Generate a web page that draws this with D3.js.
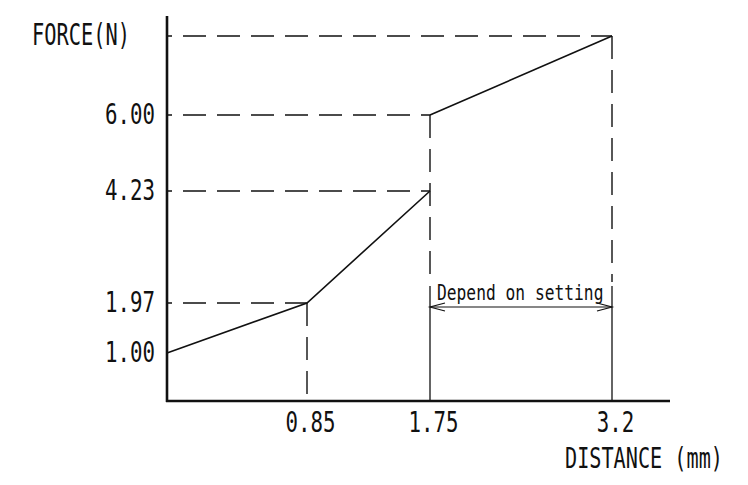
<!DOCTYPE html>
<html><head><meta charset="utf-8">
<script src="https://cdn.jsdelivr.net/npm/d3@7"></script>
<style>html,body{margin:0;padding:0;background:#fff;} svg{display:block}</style>
</head><body><svg id="c" width="748" height="485"></svg>
<script>
// ---- data ----
const distance = [0, 0.85, 1.75, 1.75, 3.2];
const force = [1.00, 1.97, 4.23, 6.00, 7.80];
const xTickValues = [0.85, 1.75, 3.2];
const xTickLabels = ["0.85", "1.75", "3.2"];
const yTickValues = [1.00, 1.97, 4.23, 6.00];
const yTickLabels = ["1.00", "1.97", "4.23", "6.00"];
const xTitle = "DISTANCE (mm)";
const yTitle = "FORCE(N)";
const annotationText = "Depend on setting";
const annotationRange = [1.75, 3.2];

// ---- layout ----
const FONT = "'DejaVu Sans Mono', 'Liberation Mono', monospace";
const INK = "#111";
const ADV = 0.602; // mono advance per em
const svg = d3.select("#c");

// schematic (piecewise) scales
const x = d3.scaleLinear().domain([0, ...xTickValues]).range([167, 307, 430, 612]);
const y = d3.scaleLinear().domain([0, ...force]).range([401, 353, 303, 191, 115, 36]);

const x0 = x(0), y0 = y(0);
const points = distance.map((d, i) => [d, force[i]]);

// split curve where the distance repeats (jump in force)
const segments = [[points[0]]];
for (let i = 1; i < points.length; i++) {
  if (points[i][0] === points[i - 1][0]) segments.push([points[i]]);
  else segments[segments.length - 1].push(points[i]);
}

// condensed text via horizontal scale
function condensed(sel, fs, charW) {
  const sx = charW / (ADV * fs);
  sel.each(function () {
    const t = d3.select(this);
    const xa = +t.attr("x") || 0;
    t.attr("x", xa / sx).attr("transform", `scale(${sx},1)`);
  });
}
function label(txt, px, py, fs, charW, anchor) {
  const sx = charW / (ADV * fs);
  svg.append("text").text(txt)
    .attr("transform", `translate(${px},${py}) scale(${sx},1)`)
    .attr("text-anchor", anchor || "start")
    .attr("font-family", FONT).attr("font-size", fs).attr("fill", INK);
}

// ---- guide lines ----
const guides = svg.append("g").attr("stroke", INK).attr("fill", "none");
const dash = "23,11";
points.slice(1).forEach(p => {
  guides.append("line")
    .attr("x1", x0).attr("x2", x(p[0]))
    .attr("y1", y(p[1])).attr("y2", y(p[1]))
    .attr("stroke-width", 1.4).attr("stroke-dasharray", dash).attr("stroke-dashoffset", 18);
});
const arrowY = y0 - 94;
const verticals = d3.rollups(points.slice(1), v => d3.max(v, d => d[1]), d => d[0]);
verticals.forEach(([dx, fy]) => {
  const isExt = annotationRange.includes(dx);
  const yEnd = isExt ? arrowY - 25 : y0;
  guides.append("line")
    .attr("x1", x(dx)).attr("x2", x(dx))
    .attr("y1", y(fy)).attr("y2", yEnd)
    .attr("stroke-width", 1.4).attr("stroke-dasharray", dash);
  if (isExt) {
    guides.append("line")
      .attr("x1", x(dx)).attr("x2", x(dx))
      .attr("y1", arrowY - 21).attr("y2", y0)
      .attr("stroke-width", 1.3);
  }
});

// ---- dimension arrow ----
const ax1 = x(annotationRange[0]), ax2 = x(annotationRange[1]);
const arr = svg.append("g").attr("stroke", INK).attr("fill", "none").attr("stroke-width", 1.2);
arr.append("line").attr("x1", ax1).attr("x2", ax2).attr("y1", arrowY).attr("y2", arrowY);
arr.append("path").attr("d", `M${ax1 + 15},${arrowY - 4} L${ax1},${arrowY} L${ax1 + 15},${arrowY + 4}`);
arr.append("path").attr("d", `M${ax2 - 15},${arrowY - 4} L${ax2},${arrowY} L${ax2 - 15},${arrowY + 4}`);
label(annotationText, ax1 + 7, arrowY - 7, 21.5, 9.8);

// ---- curve ----
const line = d3.line().x(d => x(d[0])).y(d => y(d[1]));
svg.append("g").selectAll("path").data(segments).join("path")
  .attr("d", line)
  .attr("fill", "none").attr("stroke", INK).attr("stroke-width", 1.6);

// ---- axes ----
svg.append("line").attr("x1", x0).attr("x2", x0).attr("y1", y0 + 1).attr("y2", 16)
  .attr("stroke", INK).attr("stroke-width", 2.6);
svg.append("line").attr("x1", x0 - 1).attr("x2", 670).attr("y1", y0).attr("y2", y0)
  .attr("stroke", INK).attr("stroke-width", 2.6);

const yAxis = svg.append("g").attr("transform", `translate(${x0},0)`)
  .call(d3.axisLeft(y).tickValues(yTickValues).tickFormat((d, i) => yTickLabels[i]).tickSize(0).tickPadding(12));
yAxis.select(".domain").remove();
yAxis.selectAll("text").attr("font-family", FONT).attr("font-size", 28).attr("fill", INK).call(condensed, 28, 12.5);

const xAxis = svg.append("g").attr("transform", `translate(0,${y0})`)
  .call(d3.axisBottom(x).tickValues(xTickValues).tickFormat((d, i) => xTickLabels[i]).tickSize(0).tickPadding(11));
xAxis.select(".domain").remove();
xAxis.selectAll("text").attr("x", 3).attr("font-family", FONT).attr("font-size", 28.5).attr("fill", INK).call(condensed, 28.5, 12.5);

// ---- titles ----
label(yTitle, 32, 45, 30, 12.25);
label(xTitle, 565, 468, 28.5, 12.15);
</script>
</body></html>
